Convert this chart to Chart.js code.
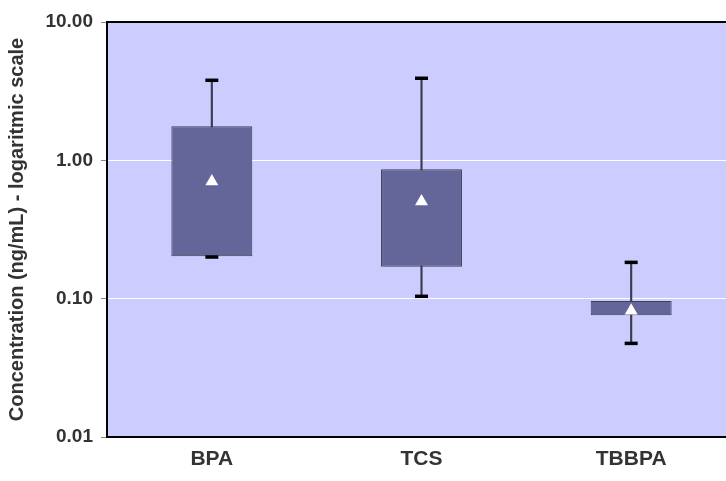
<!DOCTYPE html>
<html>
<head>
<meta charset="utf-8">
<script src="https://cdn.jsdelivr.net/npm/chart.js@4.4.1/dist/chart.umd.min.js"></script>
<style>
  html, body { margin: 0; padding: 0; background: #fff; overflow: hidden; }
  #wrap { width: 726px; height: 481px; overflow: hidden; }
  #chart { display: block; }
</style>
</head>
<body>
<!-- the original plot area runs a little past the right edge of the picture -->
<div id="wrap"><canvas id="chart" width="736" height="481"></canvas></div>
<script>
const categories = ['BPA', 'TCS', 'TBBPA'];
const whiskerLow = [0.200, 0.104, 0.0475];
const q1 = [0.203, 0.170, 0.0758];
const q3 = [1.76, 0.861, 0.096];
const whiskerHigh = [3.79, 3.92, 0.183];
const means = [0.703, 0.504, 0.0817];
const yTicks = [0.01, 0.1, 1, 10];

const fontFamily = '"Liberation Sans", Arial, sans-serif';

const plotFrame = {
    id: 'plotFrame',
    beforeDraw(chart) {
        const { ctx, chartArea } = chart;
        ctx.save();
        ctx.fillStyle = '#CCCCFF';
        ctx.fillRect(chartArea.left, chartArea.top, chartArea.right - chartArea.left, chartArea.bottom - chartArea.top);
        ctx.restore();
    },
    afterDraw(chart) {
        const { ctx, chartArea } = chart;
        ctx.save();
        ctx.strokeStyle = '#000';
        ctx.lineWidth = 2;
        ctx.beginPath();
        ctx.moveTo(chartArea.left - 1, chartArea.top);
        ctx.lineTo(chartArea.right, chartArea.top);
        ctx.stroke();
        ctx.restore();
    },
};

new Chart(document.getElementById('chart'), {
    data: {
        labels: categories,
        datasets: [
            {
                type: 'bar',
                label: 'whisker',
                data: categories.map((c, i) => [whiskerLow[i], whiskerHigh[i]]),
                backgroundColor: '#3c3c4c',
                barThickness: 1.5,
                grouped: false,
                order: 4,
            },
            {
                type: 'bar',
                label: 'box',
                data: categories.map((c, i) => [q1[i], q3[i]]),
                backgroundColor: '#646598',
                borderColor: '#3f3f4f',
                borderWidth: 1,
                borderSkipped: false,
                barPercentage: 0.386,
                categoryPercentage: 1,
                grouped: false,
                order: 3,
            },
            {
                type: 'line',
                label: 'high',
                data: whiskerHigh,
                showLine: false,
                pointStyle: 'line',
                pointRadius: 6.5,
                pointBorderWidth: 3.5,
                pointBorderColor: '#000',
                order: 2,
            },
            {
                type: 'line',
                label: 'low',
                data: whiskerLow,
                showLine: false,
                pointStyle: 'line',
                pointRadius: 6.5,
                pointBorderWidth: 3.5,
                pointBorderColor: '#000',
                order: 2,
            },
            {
                type: 'line',
                label: 'mean',
                data: means,
                showLine: false,
                pointStyle: 'triangle',
                pointRadius: 7.5,
                pointBorderWidth: 0,
                pointBackgroundColor: '#fff',
                order: 1,
            },
        ],
    },
    options: {
        responsive: false,
        animation: false,
        layout: {
            autoPadding: false,
            padding: { top: 22, left: 0, right: 0, bottom: 0 },
        },
        scales: {
            x: {
                type: 'category',
                grid: { display: false, drawTicks: false },
                border: { display: true, color: '#000', width: 2 },
                ticks: {
                    color: '#333',
                    padding: 10,
                    font: { family: fontFamily, size: 21, weight: 'bold' },
                },
                afterFit(scale) {
                    scale.height = 44;
                },
            },
            y: {
                type: 'logarithmic',
                min: 0.01,
                max: 10,
                afterBuildTicks(scale) {
                    scale.ticks = yTicks.map((v) => ({ value: v }));
                },
                grid: {
                    color: '#fff',
                    lineWidth: 1,
                    tickLength: 6,
                    tickColor: '#888',
                },
                border: { display: true, color: '#000', width: 2 },
                ticks: {
                    color: '#333',
                    padding: 8,
                    font: { family: fontFamily, size: 19, weight: 'bold' },
                    callback: (v) => Number(v).toFixed(2),
                },
                title: {
                    display: true,
                    text: 'Concentration (ng/mL) - logaritmic scale',
                    color: '#333',
                    padding: { top: 5, bottom: 0 },
                    font: { family: fontFamily, size: 20, weight: 'bold' },
                },
                afterFit(scale) {
                    scale.width = 107;
                },
            },
        },
        plugins: {
            legend: { display: false },
            tooltip: { enabled: false },
        },
    },
    plugins: [plotFrame],
});
</script>
</body>
</html>
